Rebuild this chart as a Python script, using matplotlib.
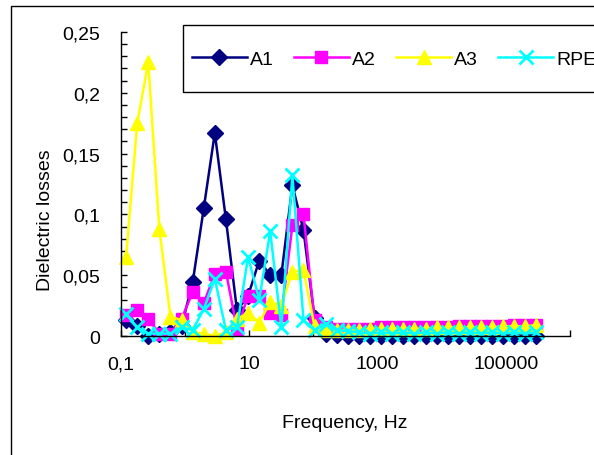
import matplotlib
matplotlib.use("Agg")
import matplotlib.pyplot as plt
from matplotlib.patches import Rectangle
from matplotlib.ticker import FuncFormatter, MultipleLocator, FixedLocator

plt.rcParams["font.family"] = ["Liberation Sans", "DejaVu Sans"]

# frequencies, Hz
freq = [0.12, 0.179, 0.266, 0.396, 0.59, 0.878, 1.31, 1.95, 2.9, 4.32,
        6.43, 9.57, 14.3, 21.2, 31.6, 47.0, 70.0, 104, 155, 231,
        344, 513, 763, 1140, 1690, 2520, 3750, 5590, 8320, 12400,
        18500, 27500, 40900, 60900, 90700, 135000, 201000, 299000]

a1 = [0.013, 0.008, 0.000, 0.002, 0.003, 0.008, 0.044, 0.105, 0.167, 0.096,
      0.021, 0.033, 0.062, 0.050, 0.050, 0.124, 0.087, 0.015, 0.002, 0.001,
      0.000, 0.000, 0.000, 0.000, 0.000, 0.000, 0.000, 0.000, 0.000, 0.000,
      0.000, 0.000, 0.000, 0.000, 0.000, 0.000, 0.000, 0.000]
a2 = [0.017, 0.021, 0.014, 0.002, 0.002, 0.014, 0.036, 0.027, 0.051, 0.053,
      0.006, 0.033, 0.033, 0.019, 0.017, 0.091, 0.100, 0.013, 0.007, 0.006,
      0.006, 0.006, 0.006, 0.007, 0.007, 0.007, 0.007, 0.007, 0.007, 0.007,
      0.008, 0.008, 0.008, 0.008, 0.008, 0.009, 0.009, 0.009]
a3 = [0.065, 0.175, 0.225, 0.088, 0.016, 0.013, 0.003, 0.002, 0.000, 0.003,
      0.014, 0.019, 0.011, 0.028, 0.025, 0.053, 0.054, 0.008, 0.005, 0.005,
      0.005, 0.005, 0.006, 0.006, 0.006, 0.006, 0.006, 0.006, 0.007, 0.007,
      0.007, 0.007, 0.007, 0.007, 0.008, 0.008, 0.008, 0.009]
rpe = [0.018, 0.007, 0.002, 0.002, 0.002, 0.007, 0.005, 0.022, 0.047, 0.005,
       0.007, 0.065, 0.030, 0.086, 0.007, 0.132, 0.013, 0.005, 0.010, 0.005,
       0.004, 0.003, 0.002, 0.003, 0.002, 0.003, 0.002, 0.003, 0.002, 0.003,
       0.002, 0.003, 0.002, 0.003, 0.002, 0.003, 0.002, 0.003]

series = [
    ("A1", a1, dict(color="#000080", marker="D", ms=8)),
    ("A2", a2, dict(color="#FF00FF", marker="s", ms=9)),
    ("A3", a3, dict(color="#FFFF00", marker="^", ms=10)),
    ("RPE", rpe, dict(color="#00FFFF", marker="x", ms=10, mew=2)),
]

W, H = 594, 456
fig = plt.figure(figsize=(W / 100, H / 100), dpi=100)
ax = fig.add_axes([121 / W, 1 - 337 / H, 449 / W, 304 / H])

for name, vals, st in series:
    ax.plot(freq, vals, label=name, lw=1.8, clip_on=False, **st)

ax.set_xscale("log")
ax.set_xlim(0.1, 1e6)
ax.set_ylim(0, 0.25)

comma = FuncFormatter(lambda v, p: ("%g" % v).replace(".", ","))
ax.yaxis.set_major_locator(MultipleLocator(0.05))
ax.yaxis.set_minor_locator(MultipleLocator(0.01))
ax.yaxis.set_major_formatter(comma)

ax.xaxis.set_major_locator(FixedLocator([0.1, 10, 1000, 100000]))
ax.xaxis.set_minor_locator(FixedLocator([1, 100, 10000, 1e6]))
ax.xaxis.set_major_formatter(comma)
ax.xaxis.set_minor_formatter(FuncFormatter(lambda v, p: ""))

ax.tick_params(axis="both", which="both", direction="in", length=4,
               width=1, labelsize=14)
ax.tick_params(axis="y", pad=15)
ax.tick_params(axis="x", pad=14)

for s in ["top", "right"]:
    ax.spines[s].set_visible(False)
for s in ["left", "bottom"]:
    ax.spines[s].set_color("black")
    ax.spines[s].set_linewidth(1)

fig.text(345 / W, 1 - 424 / H, "Frequency, Hz", fontsize=14,
         ha="center", va="center")
fig.text(46 / W, 1 - 220 / H, "Dielectric losses", fontsize=14,
         rotation=90, ha="center", va="center")

# legend, cut off at the right edge as in the original
fig.patches.append(Rectangle((183 / W, 1 - 93 / H), 440 / W, 67 / H,
                             transform=fig.transFigure, fill=False,
                             edgecolor="black", lw=1))
fig.legend(loc="center left", bbox_to_anchor=(183 / W, 1 - 60 / H),
           ncol=4, frameon=False, fontsize=14, handlelength=2.85,
           handletextpad=0.15, columnspacing=1.02, borderpad=0.0,
           borderaxespad=0.45)

# outer chart border
fig.patches.append(Rectangle((11 / W, -0.1), 1.2, 1 - 7 / H + 0.1,
                             transform=fig.transFigure, fill=False,
                             edgecolor="black", lw=1))

fig.savefig("out.png", dpi=100)
